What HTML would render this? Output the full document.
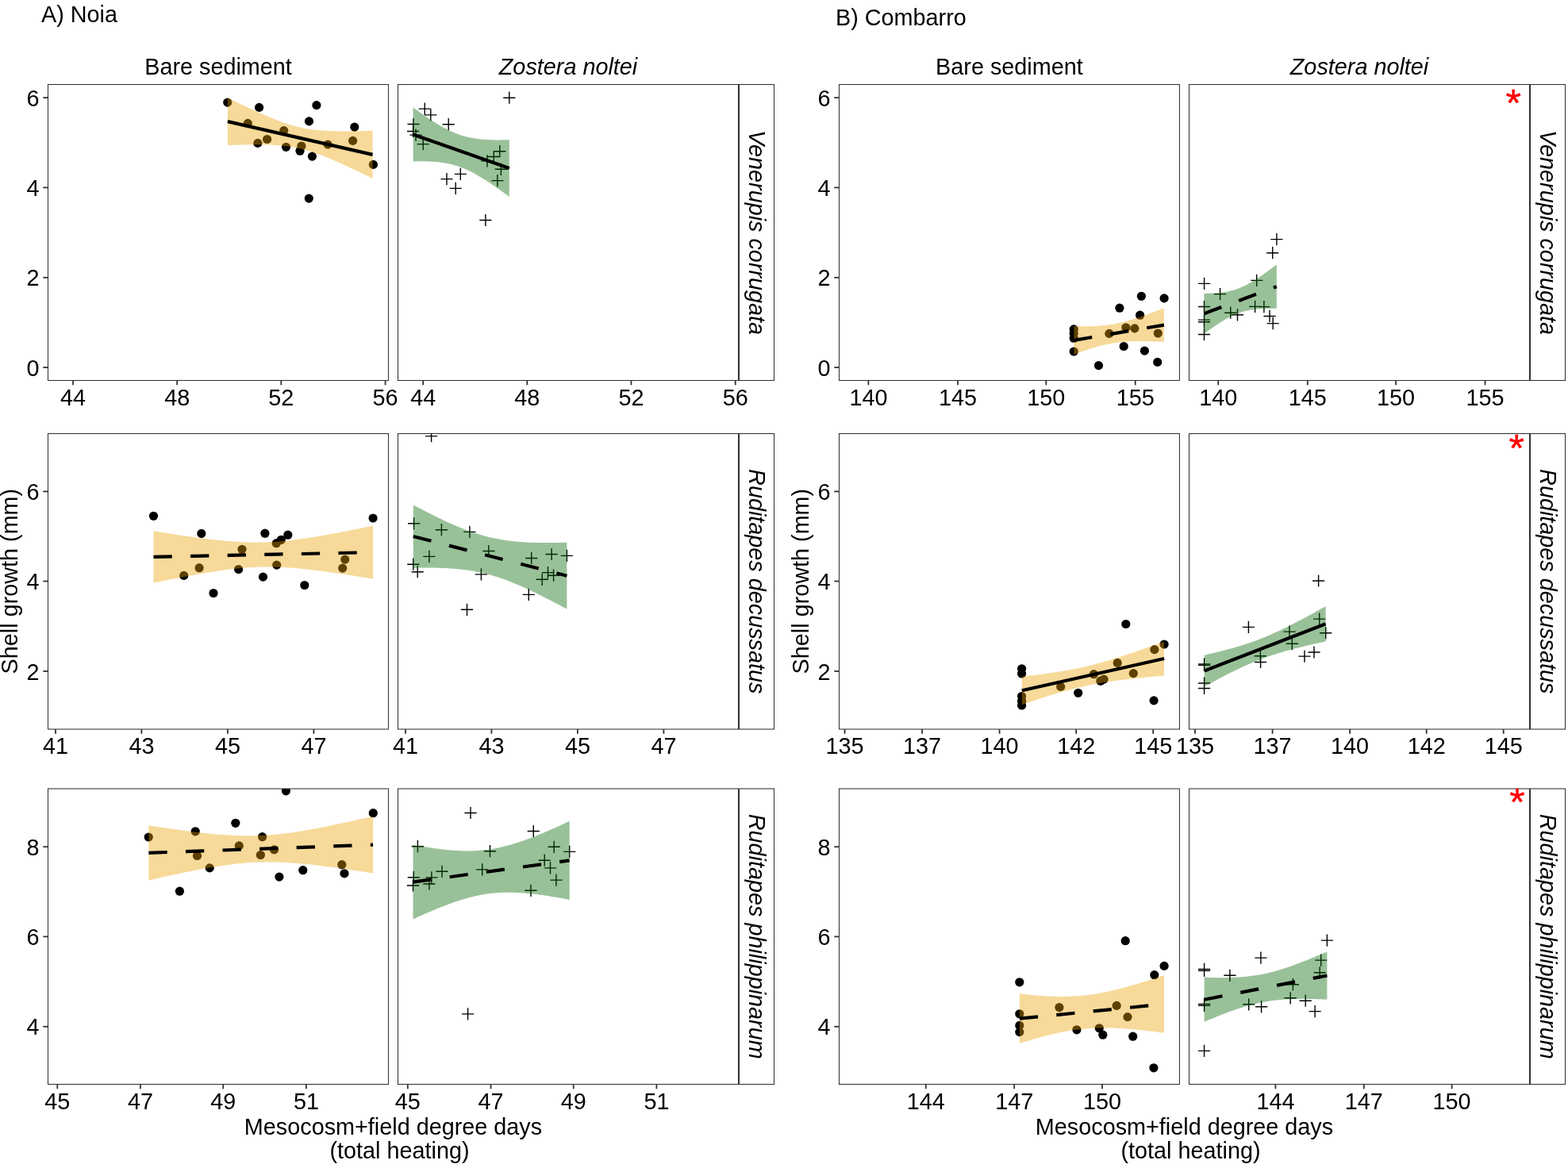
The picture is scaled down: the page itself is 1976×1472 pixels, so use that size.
<!DOCTYPE html>
<html><head><meta charset="utf-8"><title>Shell growth vs degree days</title>
<style>html,body{margin:0;padding:0;background:#fff;}svg{display:block;}</style></head>
<body>
<svg width="1976" height="1472" viewBox="0 0 1976 1472">
<rect width="1976" height="1472" fill="#fff"/>
<defs><clipPath id="cA00"><rect x="60.5" y="106.5" width="429" height="373"/></clipPath><clipPath id="cA01"><rect x="501.5" y="106.5" width="429" height="373"/></clipPath><clipPath id="cA10"><rect x="60.5" y="546.5" width="429" height="372.5"/></clipPath><clipPath id="cA11"><rect x="501.5" y="546.5" width="429" height="372.5"/></clipPath><clipPath id="cA20"><rect x="60.5" y="994" width="429" height="372.5"/></clipPath><clipPath id="cA21"><rect x="501.5" y="994" width="429" height="372.5"/></clipPath><clipPath id="cB00"><rect x="1057.5" y="106.5" width="428.9" height="373"/></clipPath><clipPath id="cB01"><rect x="1498.5" y="106.5" width="429" height="373"/></clipPath><clipPath id="cB10"><rect x="1057.5" y="546.5" width="428.9" height="372.5"/></clipPath><clipPath id="cB11"><rect x="1498.5" y="546.5" width="429" height="372.5"/></clipPath><clipPath id="cB20"><rect x="1057.5" y="994" width="428.9" height="372.5"/></clipPath><clipPath id="cB21"><rect x="1498.5" y="994" width="429" height="372.5"/></clipPath></defs>
<g font-family="'Liberation Sans', Arial, Helvetica, sans-serif" font-size="28.8" fill="#000">
<g clip-path="url(#cA00)">
<circle cx="286.7" cy="129.1" r="5.6"/>
<circle cx="326.6" cy="135.4" r="5.6"/>
<circle cx="398.9" cy="132.6" r="5.6"/>
<circle cx="389.5" cy="152.9" r="5.6"/>
<circle cx="446.8" cy="160.1" r="5.6"/>
<circle cx="312.3" cy="155.4" r="5.6"/>
<circle cx="357.7" cy="164.6" r="5.6"/>
<circle cx="336.6" cy="175.5" r="5.6"/>
<circle cx="324.9" cy="180.4" r="5.6"/>
<circle cx="360.5" cy="185.3" r="5.6"/>
<circle cx="379.9" cy="184" r="5.6"/>
<circle cx="378" cy="190.2" r="5.6"/>
<circle cx="393.4" cy="197.1" r="5.6"/>
<circle cx="413.1" cy="182.1" r="5.6"/>
<circle cx="444.6" cy="177.4" r="5.6"/>
<circle cx="470.4" cy="207.4" r="5.6"/>
<circle cx="389.3" cy="250.1" r="5.6"/>
<polygon points="286.9,123.15 289.21,124.29 291.53,125.42 293.84,126.55 296.15,127.68 298.46,128.8 300.78,129.92 303.09,131.03 305.4,132.14 307.71,133.24 310.03,134.34 312.34,135.43 314.65,136.51 316.96,137.59 319.28,138.66 321.59,139.72 323.9,140.78 326.22,141.82 328.53,142.86 330.84,143.88 333.15,144.89 335.47,145.89 337.78,146.88 340.09,147.85 342.4,148.8 344.72,149.74 347.03,150.66 349.34,151.56 351.65,152.44 353.97,153.3 356.28,154.13 358.59,154.93 360.91,155.71 363.22,156.47 365.53,157.19 367.84,157.88 370.16,158.53 372.47,159.16 374.78,159.75 377.09,160.31 379.41,160.83 381.72,161.31 384.03,161.77 386.34,162.18 388.66,162.57 390.97,162.92 393.28,163.25 395.59,163.54 397.91,163.81 400.22,164.05 402.53,164.26 404.85,164.45 407.16,164.62 409.47,164.77 411.78,164.9 414.1,165.01 416.41,165.11 418.72,165.19 421.03,165.25 423.35,165.31 425.66,165.35 427.97,165.38 430.28,165.39 432.6,165.4 434.91,165.4 437.22,165.39 439.54,165.38 441.85,165.35 444.16,165.32 446.47,165.29 448.79,165.24 451.1,165.2 453.41,165.14 455.72,165.09 458.04,165.02 460.35,164.96 462.66,164.89 464.97,164.81 467.29,164.74 469.6,164.66 469.6,225.01 467.29,223.87 464.97,222.74 462.66,221.61 460.35,220.48 458.04,219.36 455.72,218.24 453.41,217.12 451.1,216.01 448.79,214.91 446.47,213.81 444.16,212.71 441.85,211.63 439.54,210.55 437.22,209.47 434.91,208.41 432.6,207.35 430.28,206.3 427.97,205.26 425.66,204.23 423.35,203.22 421.03,202.21 418.72,201.22 416.41,200.24 414.1,199.28 411.78,198.34 409.47,197.41 407.16,196.5 404.85,195.61 402.53,194.75 400.22,193.9 397.91,193.09 395.59,192.3 393.28,191.53 390.97,190.8 388.66,190.1 386.34,189.43 384.03,188.79 381.72,188.18 379.41,187.61 377.09,187.08 374.78,186.58 372.47,186.11 370.16,185.68 367.84,185.28 365.53,184.91 363.22,184.57 360.91,184.27 358.59,183.99 356.28,183.74 353.97,183.52 351.65,183.32 349.34,183.14 347.03,182.98 344.72,182.84 342.4,182.72 340.09,182.62 337.78,182.54 335.47,182.46 333.15,182.41 330.84,182.36 328.53,182.33 326.22,182.31 323.9,182.29 321.59,182.29 319.28,182.29 316.96,182.31 314.65,182.33 312.34,182.36 310.03,182.39 307.71,182.43 305.4,182.48 303.09,182.53 300.78,182.58 298.46,182.64 296.15,182.71 293.84,182.78 291.53,182.85 289.21,182.92 286.9,183" fill="#EBA000" fill-opacity="0.4"/>
<line x1="286.9" y1="153.08" x2="469.6" y2="194.83" stroke="#000" stroke-width="4.2"/>
</g>
<rect x="60.5" y="106.5" width="429" height="373" fill="none" stroke="#333333" stroke-width="1.07"/>
<line x1="92.1" y1="479.5" x2="92.1" y2="485.3" stroke="#333333" stroke-width="1.8"/>
<text transform="translate(92.1,510.8) scale(1,1.04)" text-anchor="middle">44</text>
<line x1="223.2" y1="479.5" x2="223.2" y2="485.3" stroke="#333333" stroke-width="1.8"/>
<text transform="translate(223.2,510.8) scale(1,1.04)" text-anchor="middle">48</text>
<line x1="354.3" y1="479.5" x2="354.3" y2="485.3" stroke="#333333" stroke-width="1.8"/>
<text transform="translate(354.3,510.8) scale(1,1.04)" text-anchor="middle">52</text>
<line x1="485.6" y1="479.5" x2="485.6" y2="485.3" stroke="#333333" stroke-width="1.8"/>
<text transform="translate(485.6,510.8) scale(1,1.04)" text-anchor="middle">56</text>
<g clip-path="url(#cA01)">
<path d="M634.2 123.2h15.2M641.8 115.6v15.2M527.6 137.1h15.2M535.2 129.5v15.2M535.2 144.9h15.2M542.8 137.3v15.2M557.6 156.7h15.2M565.2 149.1v15.2M513.4 156.5h15.2M521 148.9v15.2M513 165.5h15.2M520.6 157.9v15.2M516.4 170.1h15.2M524 162.5v15.2M525.6 181.6h15.2M533.2 174v15.2M622.2 190.7h15.2M629.8 183.1v15.2M614.7 197.5h15.2M622.3 189.9v15.2M606.3 202.9h15.2M613.9 195.3v15.2M623.8 213.3h15.2M631.4 205.7v15.2M619.3 227.6h15.2M626.9 220v15.2M572.7 219.4h15.2M580.3 211.8v15.2M555.4 225.6h15.2M563 218v15.2M566.6 237.4h15.2M574.2 229.8v15.2M604.3 277.5h15.2M611.9 269.9v15.2" stroke="#000" stroke-width="1.4" fill="none"/>
<polygon points="520.6,135.43 522.13,136.55 523.67,137.66 525.2,138.76 526.74,139.86 528.27,140.96 529.81,142.04 531.34,143.12 532.87,144.19 534.41,145.25 535.94,146.31 537.48,147.35 539.01,148.39 540.54,149.41 542.08,150.42 543.61,151.43 545.15,152.42 546.68,153.39 548.22,154.36 549.75,155.31 551.28,156.24 552.82,157.16 554.35,158.07 555.89,158.95 557.42,159.82 558.95,160.67 560.49,161.51 562.02,162.32 563.56,163.11 565.09,163.88 566.63,164.62 568.16,165.34 569.69,166.04 571.23,166.72 572.76,167.37 574.3,167.99 575.83,168.59 577.36,169.17 578.9,169.72 580.43,170.24 581.97,170.74 583.5,171.21 585.04,171.66 586.57,172.08 588.1,172.47 589.64,172.85 591.17,173.2 592.71,173.52 594.24,173.83 595.77,174.11 597.31,174.37 598.84,174.61 600.38,174.84 601.91,175.04 603.45,175.23 604.98,175.4 606.51,175.55 608.05,175.69 609.58,175.82 611.12,175.93 612.65,176.02 614.18,176.11 615.72,176.18 617.25,176.24 618.79,176.3 620.32,176.34 621.86,176.37 623.39,176.39 624.92,176.41 626.46,176.41 627.99,176.41 629.53,176.4 631.06,176.39 632.59,176.36 634.13,176.33 635.66,176.3 637.2,176.26 638.73,176.21 640.27,176.16 641.8,176.11 641.8,247.99 640.27,246.86 638.73,245.73 637.2,244.6 635.66,243.48 634.13,242.37 632.59,241.26 631.06,240.16 629.53,239.07 627.99,237.98 626.46,236.9 624.92,235.82 623.39,234.76 621.86,233.7 620.32,232.66 618.79,231.62 617.25,230.59 615.72,229.57 614.18,228.57 612.65,227.58 611.12,226.59 609.58,225.63 608.05,224.67 606.51,223.73 604.98,222.81 603.45,221.9 601.91,221.01 600.38,220.13 598.84,219.28 597.31,218.44 595.77,217.62 594.24,216.83 592.71,216.05 591.17,215.3 589.64,214.57 588.1,213.86 586.57,213.18 585.04,212.52 583.5,211.89 581.97,211.28 580.43,210.7 578.9,210.14 577.36,209.61 575.83,209.11 574.3,208.63 572.76,208.18 571.23,207.75 569.69,207.34 568.16,206.97 566.63,206.61 565.09,206.28 563.56,205.97 562.02,205.68 560.49,205.41 558.95,205.16 557.42,204.93 555.89,204.72 554.35,204.53 552.82,204.36 551.28,204.2 549.75,204.05 548.22,203.93 546.68,203.81 545.15,203.71 543.61,203.62 542.08,203.54 540.54,203.48 539.01,203.42 537.48,203.38 535.94,203.35 534.41,203.32 532.87,203.3 531.34,203.29 529.81,203.29 528.27,203.3 526.74,203.31 525.2,203.34 523.67,203.36 522.13,203.39 520.6,203.43" fill="#006400" fill-opacity="0.4"/>
<line x1="520.6" y1="169.43" x2="641.8" y2="212.05" stroke="#000" stroke-width="4.2"/>
</g>
<rect x="501.5" y="106.5" width="429" height="373" fill="none" stroke="#333333" stroke-width="1.07"/>
<line x1="533.2" y1="479.5" x2="533.2" y2="485.3" stroke="#333333" stroke-width="1.8"/>
<text transform="translate(533.2,510.8) scale(1,1.04)" text-anchor="middle">44</text>
<line x1="664.3" y1="479.5" x2="664.3" y2="485.3" stroke="#333333" stroke-width="1.8"/>
<text transform="translate(664.3,510.8) scale(1,1.04)" text-anchor="middle">48</text>
<line x1="795.4" y1="479.5" x2="795.4" y2="485.3" stroke="#333333" stroke-width="1.8"/>
<text transform="translate(795.4,510.8) scale(1,1.04)" text-anchor="middle">52</text>
<line x1="926.7" y1="479.5" x2="926.7" y2="485.3" stroke="#333333" stroke-width="1.8"/>
<text transform="translate(926.7,510.8) scale(1,1.04)" text-anchor="middle">56</text>
<rect x="931.5" y="106.5" width="44" height="373" fill="none" stroke="#333333" stroke-width="1.07"/>
<text transform="translate(943.6,293) rotate(90) scale(1,1.04)" text-anchor="middle" font-style="italic">Venerupis corrugata</text>
<line x1="54.3" y1="463.1" x2="60.5" y2="463.1" stroke="#333333" stroke-width="1.8"/>
<text transform="translate(49.6,473.7) scale(1,1.04)" text-anchor="end">0</text>
<line x1="54.3" y1="349.8" x2="60.5" y2="349.8" stroke="#333333" stroke-width="1.8"/>
<text transform="translate(49.6,360.4) scale(1,1.04)" text-anchor="end">2</text>
<line x1="54.3" y1="236.4" x2="60.5" y2="236.4" stroke="#333333" stroke-width="1.8"/>
<text transform="translate(49.6,247) scale(1,1.04)" text-anchor="end">4</text>
<line x1="54.3" y1="123.1" x2="60.5" y2="123.1" stroke="#333333" stroke-width="1.8"/>
<text transform="translate(49.6,133.7) scale(1,1.04)" text-anchor="end">6</text>
<g clip-path="url(#cA10)">
<circle cx="193.5" cy="650.3" r="5.6"/>
<circle cx="253.8" cy="672.4" r="5.6"/>
<circle cx="231.7" cy="725.4" r="5.6"/>
<circle cx="251.1" cy="715.7" r="5.6"/>
<circle cx="269" cy="747.5" r="5.6"/>
<circle cx="305" cy="692.3" r="5.6"/>
<circle cx="300.6" cy="717.5" r="5.6"/>
<circle cx="333.9" cy="672.2" r="5.6"/>
<circle cx="362.8" cy="674.2" r="5.6"/>
<circle cx="354.3" cy="680.3" r="5.6"/>
<circle cx="348.3" cy="684.7" r="5.6"/>
<circle cx="348.7" cy="712.1" r="5.6"/>
<circle cx="331.5" cy="727.1" r="5.6"/>
<circle cx="383.8" cy="737.5" r="5.6"/>
<circle cx="434.8" cy="705.1" r="5.6"/>
<circle cx="431.7" cy="716.1" r="5.6"/>
<circle cx="470.1" cy="653" r="5.6"/>
<polygon points="193.5,669.16 197,669.74 200.5,670.31 204,670.88 207.51,671.44 211.01,672 214.51,672.56 218.01,673.1 221.51,673.65 225.01,674.18 228.51,674.71 232.01,675.23 235.52,675.75 239.02,676.25 242.52,676.75 246.02,677.24 249.52,677.72 253.02,678.18 256.52,678.64 260.02,679.08 263.53,679.51 267.03,679.92 270.53,680.32 274.03,680.71 277.53,681.07 281.03,681.42 284.53,681.74 288.03,682.04 291.54,682.32 295.04,682.58 298.54,682.81 302.04,683.01 305.54,683.18 309.04,683.33 312.54,683.44 316.04,683.52 319.55,683.56 323.05,683.57 326.55,683.55 330.05,683.49 333.55,683.39 337.05,683.27 340.55,683.1 344.05,682.9 347.56,682.67 351.06,682.41 354.56,682.11 358.06,681.79 361.56,681.43 365.06,681.05 368.56,680.65 372.06,680.21 375.57,679.76 379.07,679.28 382.57,678.79 386.07,678.27 389.57,677.74 393.07,677.19 396.57,676.63 400.07,676.05 403.58,675.46 407.08,674.86 410.58,674.24 414.08,673.61 417.58,672.98 421.08,672.33 424.58,671.68 428.08,671.02 431.59,670.35 435.09,669.67 438.59,668.99 442.09,668.3 445.59,667.6 449.09,666.9 452.59,666.2 456.09,665.48 459.6,664.77 463.1,664.05 466.6,663.33 470.1,662.6 470.1,729.59 466.6,729 463.1,728.43 459.6,727.85 456.09,727.29 452.59,726.72 449.09,726.16 445.59,725.61 442.09,725.06 438.59,724.51 435.09,723.98 431.59,723.45 428.08,722.92 424.58,722.41 421.08,721.9 417.58,721.4 414.08,720.91 410.58,720.43 407.08,719.96 403.58,719.5 400.07,719.06 396.57,718.63 393.07,718.21 389.57,717.81 386.07,717.42 382.57,717.05 379.07,716.7 375.57,716.37 372.06,716.06 368.56,715.78 365.06,715.52 361.56,715.28 358.06,715.08 354.56,714.9 351.06,714.75 347.56,714.63 344.05,714.54 340.55,714.49 337.05,714.47 333.55,714.49 330.05,714.54 326.55,714.63 323.05,714.75 319.55,714.91 316.04,715.1 312.54,715.32 309.04,715.58 305.54,715.87 302.04,716.19 298.54,716.54 295.04,716.91 291.54,717.31 288.03,717.74 284.53,718.19 281.03,718.66 277.53,719.15 274.03,719.66 270.53,720.19 267.03,720.74 263.53,721.3 260.02,721.87 256.52,722.46 253.02,723.06 249.52,723.68 246.02,724.3 242.52,724.93 239.02,725.58 235.52,726.23 232.01,726.89 228.51,727.56 225.01,728.23 221.51,728.92 218.01,729.6 214.51,730.3 211.01,731 207.51,731.7 204,732.41 200.5,733.13 197,733.85 193.5,734.57" fill="#EBA000" fill-opacity="0.4"/>
<line x1="193.5" y1="701.87" x2="470.1" y2="696.09" stroke="#000" stroke-width="4.2" stroke-dasharray="23.3 23.3"/>
</g>
<rect x="60.5" y="546.5" width="429" height="372.5" fill="none" stroke="#333333" stroke-width="1.07"/>
<line x1="70" y1="919" x2="70" y2="924.8" stroke="#333333" stroke-width="1.8"/>
<text transform="translate(70,950.3) scale(1,1.04)" text-anchor="middle">41</text>
<line x1="178.4" y1="919" x2="178.4" y2="924.8" stroke="#333333" stroke-width="1.8"/>
<text transform="translate(178.4,950.3) scale(1,1.04)" text-anchor="middle">43</text>
<line x1="286.9" y1="919" x2="286.9" y2="924.8" stroke="#333333" stroke-width="1.8"/>
<text transform="translate(286.9,950.3) scale(1,1.04)" text-anchor="middle">45</text>
<line x1="395.4" y1="919" x2="395.4" y2="924.8" stroke="#333333" stroke-width="1.8"/>
<text transform="translate(395.4,950.3) scale(1,1.04)" text-anchor="middle">47</text>
<g clip-path="url(#cA11)">
<path d="M536 549.6h15.2M543.6 542v15.2M514 659.8h15.2M521.6 652.2v15.2M548.8 667.7h15.2M556.4 660.1v15.2M584.3 670.4h15.2M591.9 662.8v15.2M533.3 701.4h15.2M540.9 693.8v15.2M513.2 711.2h15.2M520.8 703.6v15.2M518.6 720.7h15.2M526.2 713.1v15.2M598.8 723.9h15.2M606.4 716.3v15.2M608.3 694.5h15.2M615.9 686.9v15.2M580.9 768.3h15.2M588.5 760.7v15.2M662.1 703.5h15.2M669.7 695.9v15.2M687.5 698.5h15.2M695.1 690.9v15.2M706.8 700.4h15.2M714.4 692.8v15.2M682.9 721.6h15.2M690.5 714v15.2M690 725.2h15.2M697.6 717.6v15.2M675.6 730.3h15.2M683.2 722.7v15.2M658.7 749.4h15.2M666.3 741.8v15.2" stroke="#000" stroke-width="1.4" fill="none"/>
<polygon points="520.8,636.39 523.25,637.69 525.7,638.98 528.15,640.27 530.6,641.56 533.05,642.83 535.5,644.09 537.95,645.35 540.41,646.6 542.86,647.84 545.31,649.06 547.76,650.28 550.21,651.49 552.66,652.68 555.11,653.86 557.56,655.03 560.01,656.18 562.46,657.32 564.91,658.45 567.36,659.55 569.81,660.64 572.26,661.72 574.71,662.77 577.16,663.8 579.62,664.81 582.07,665.8 584.52,666.77 586.97,667.72 589.42,668.64 591.87,669.53 594.32,670.4 596.77,671.24 599.22,672.05 601.67,672.84 604.12,673.6 606.57,674.32 609.02,675.02 611.47,675.69 613.92,676.33 616.37,676.93 618.83,677.51 621.28,678.06 623.73,678.58 626.18,679.06 628.63,679.52 631.08,679.96 633.53,680.36 635.98,680.74 638.43,681.09 640.88,681.42 643.33,681.72 645.78,682 648.23,682.26 650.68,682.5 653.13,682.71 655.58,682.91 658.04,683.09 660.49,683.25 662.94,683.39 665.39,683.52 667.84,683.63 670.29,683.72 672.74,683.81 675.19,683.88 677.64,683.94 680.09,683.98 682.54,684.02 684.99,684.04 687.44,684.06 689.89,684.06 692.34,684.06 694.79,684.05 697.25,684.03 699.7,684 702.15,683.96 704.6,683.92 707.05,683.87 709.5,683.82 711.95,683.75 714.4,683.69 714.4,767.63 711.95,766.3 709.5,764.99 707.05,763.67 704.6,762.37 702.15,761.07 699.7,759.78 697.25,758.49 694.79,757.22 692.34,755.95 689.89,754.69 687.44,753.44 684.99,752.2 682.54,750.96 680.09,749.74 677.64,748.53 675.19,747.34 672.74,746.15 670.29,744.98 667.84,743.82 665.39,742.67 662.94,741.54 660.49,740.43 658.04,739.33 655.58,738.26 653.13,737.2 650.68,736.16 648.23,735.14 645.78,734.14 643.33,733.16 640.88,732.21 638.43,731.28 635.98,730.37 633.53,729.5 631.08,728.65 628.63,727.82 626.18,727.03 623.73,726.26 621.28,725.52 618.83,724.81 616.37,724.13 613.92,723.48 611.47,722.86 609.02,722.28 606.57,721.72 604.12,721.19 601.67,720.69 599.22,720.22 596.77,719.78 594.32,719.36 591.87,718.97 589.42,718.61 586.97,718.28 584.52,717.96 582.07,717.67 579.62,717.41 577.16,717.16 574.71,716.94 572.26,716.74 569.81,716.55 567.36,716.39 564.91,716.24 562.46,716.11 560.01,715.99 557.56,715.89 555.11,715.8 552.66,715.72 550.21,715.66 547.76,715.61 545.31,715.57 542.86,715.54 540.41,715.52 537.95,715.52 535.5,715.52 533.05,715.53 530.6,715.54 528.15,715.57 525.7,715.6 523.25,715.64 520.8,715.69" fill="#006400" fill-opacity="0.4"/>
<line x1="520.8" y1="676.04" x2="714.4" y2="725.66" stroke="#000" stroke-width="4.2" stroke-dasharray="23.3 23.3"/>
</g>
<rect x="501.5" y="546.5" width="429" height="372.5" fill="none" stroke="#333333" stroke-width="1.07"/>
<line x1="511" y1="919" x2="511" y2="924.8" stroke="#333333" stroke-width="1.8"/>
<text transform="translate(511,950.3) scale(1,1.04)" text-anchor="middle">41</text>
<line x1="619.4" y1="919" x2="619.4" y2="924.8" stroke="#333333" stroke-width="1.8"/>
<text transform="translate(619.4,950.3) scale(1,1.04)" text-anchor="middle">43</text>
<line x1="727.9" y1="919" x2="727.9" y2="924.8" stroke="#333333" stroke-width="1.8"/>
<text transform="translate(727.9,950.3) scale(1,1.04)" text-anchor="middle">45</text>
<line x1="836.4" y1="919" x2="836.4" y2="924.8" stroke="#333333" stroke-width="1.8"/>
<text transform="translate(836.4,950.3) scale(1,1.04)" text-anchor="middle">47</text>
<rect x="931.5" y="546.5" width="44" height="372.5" fill="none" stroke="#333333" stroke-width="1.07"/>
<text transform="translate(943.6,732.75) rotate(90) scale(1,1.04)" text-anchor="middle" font-style="italic">Ruditapes decussatus</text>
<line x1="54.3" y1="845.9" x2="60.5" y2="845.9" stroke="#333333" stroke-width="1.8"/>
<text transform="translate(49.6,856.5) scale(1,1.04)" text-anchor="end">2</text>
<line x1="54.3" y1="732.5" x2="60.5" y2="732.5" stroke="#333333" stroke-width="1.8"/>
<text transform="translate(49.6,743.1) scale(1,1.04)" text-anchor="end">4</text>
<line x1="54.3" y1="619.4" x2="60.5" y2="619.4" stroke="#333333" stroke-width="1.8"/>
<text transform="translate(49.6,630) scale(1,1.04)" text-anchor="end">6</text>
<g clip-path="url(#cA20)">
<circle cx="187.2" cy="1055" r="5.6"/>
<circle cx="246.2" cy="1047.8" r="5.6"/>
<circle cx="248.5" cy="1078.5" r="5.6"/>
<circle cx="296.8" cy="1037.3" r="5.6"/>
<circle cx="301.3" cy="1065.9" r="5.6"/>
<circle cx="264.2" cy="1093.9" r="5.6"/>
<circle cx="226.4" cy="1123.2" r="5.6"/>
<circle cx="330.6" cy="1054.7" r="5.6"/>
<circle cx="328.4" cy="1077.5" r="5.6"/>
<circle cx="345.5" cy="1070.9" r="5.6"/>
<circle cx="360.4" cy="996.8" r="5.6"/>
<circle cx="381.8" cy="1096.7" r="5.6"/>
<circle cx="351.9" cy="1105.1" r="5.6"/>
<circle cx="430.8" cy="1089.7" r="5.6"/>
<circle cx="434" cy="1100.8" r="5.6"/>
<circle cx="470.3" cy="1024.7" r="5.6"/>
<polygon points="187.4,1040.27 190.98,1040.83 194.56,1041.38 198.14,1041.92 201.71,1042.46 205.29,1043 208.87,1043.53 212.45,1044.05 216.03,1044.57 219.61,1045.08 223.18,1045.58 226.76,1046.07 230.34,1046.56 233.92,1047.04 237.5,1047.5 241.08,1047.96 244.66,1048.41 248.23,1048.84 251.81,1049.26 255.39,1049.67 258.97,1050.06 262.55,1050.44 266.13,1050.8 269.71,1051.14 273.28,1051.46 276.86,1051.77 280.44,1052.05 284.02,1052.3 287.6,1052.53 291.18,1052.74 294.75,1052.91 298.33,1053.06 301.91,1053.18 305.49,1053.26 309.07,1053.32 312.65,1053.33 316.23,1053.32 319.8,1053.26 323.38,1053.17 326.96,1053.05 330.54,1052.88 334.12,1052.69 337.7,1052.45 341.27,1052.18 344.85,1051.87 348.43,1051.54 352.01,1051.17 355.59,1050.77 359.17,1050.33 362.75,1049.88 366.32,1049.39 369.9,1048.88 373.48,1048.35 377.06,1047.79 380.64,1047.21 384.22,1046.62 387.79,1046 391.37,1045.37 394.95,1044.72 398.53,1044.06 402.11,1043.38 405.69,1042.69 409.27,1041.99 412.84,1041.28 416.42,1040.55 420,1039.82 423.58,1039.08 427.16,1038.33 430.74,1037.57 434.32,1036.8 437.89,1036.03 441.47,1035.25 445.05,1034.46 448.63,1033.67 452.21,1032.87 455.79,1032.07 459.36,1031.27 462.94,1030.45 466.52,1029.64 470.1,1028.82 470.1,1100.51 466.52,1099.95 462.94,1099.39 459.36,1098.84 455.79,1098.29 452.21,1097.74 448.63,1097.2 445.05,1096.67 441.47,1096.14 437.89,1095.62 434.32,1095.1 430.74,1094.59 427.16,1094.09 423.58,1093.6 420,1093.11 416.42,1092.64 412.84,1092.17 409.27,1091.72 405.69,1091.27 402.11,1090.84 398.53,1090.42 394.95,1090.01 391.37,1089.62 387.79,1089.25 384.22,1088.89 380.64,1088.55 377.06,1088.23 373.48,1087.93 369.9,1087.66 366.32,1087.4 362.75,1087.17 359.17,1086.97 355.59,1086.8 352.01,1086.66 348.43,1086.54 344.85,1086.46 341.27,1086.41 337.7,1086.4 334.12,1086.42 330.54,1086.48 326.96,1086.58 323.38,1086.71 319.8,1086.87 316.23,1087.08 312.65,1087.32 309.07,1087.59 305.49,1087.9 301.91,1088.24 298.33,1088.62 294.75,1089.02 291.18,1089.46 287.6,1089.92 284.02,1090.41 280.44,1090.92 276.86,1091.46 273.28,1092.02 269.71,1092.6 266.13,1093.2 262.55,1093.81 258.97,1094.45 255.39,1095.1 251.81,1095.76 248.23,1096.44 244.66,1097.13 241.08,1097.84 237.5,1098.55 233.92,1099.28 230.34,1100.01 226.76,1100.75 223.18,1101.51 219.61,1102.27 216.03,1103.03 212.45,1103.81 208.87,1104.59 205.29,1105.37 201.71,1106.17 198.14,1106.96 194.56,1107.77 190.98,1108.57 187.4,1109.39" fill="#EBA000" fill-opacity="0.4"/>
<line x1="187.4" y1="1074.83" x2="470.1" y2="1064.67" stroke="#000" stroke-width="4.2" stroke-dasharray="23.3 23.3"/>
</g>
<rect x="60.5" y="994" width="429" height="372.5" fill="none" stroke="#333333" stroke-width="1.07"/>
<line x1="72.3" y1="1366.5" x2="72.3" y2="1372.3" stroke="#333333" stroke-width="1.8"/>
<text transform="translate(72.3,1397.8) scale(1,1.04)" text-anchor="middle">45</text>
<line x1="177" y1="1366.5" x2="177" y2="1372.3" stroke="#333333" stroke-width="1.8"/>
<text transform="translate(177,1397.8) scale(1,1.04)" text-anchor="middle">47</text>
<line x1="281.2" y1="1366.5" x2="281.2" y2="1372.3" stroke="#333333" stroke-width="1.8"/>
<text transform="translate(281.2,1397.8) scale(1,1.04)" text-anchor="middle">49</text>
<line x1="385.9" y1="1366.5" x2="385.9" y2="1372.3" stroke="#333333" stroke-width="1.8"/>
<text transform="translate(385.9,1397.8) scale(1,1.04)" text-anchor="middle">51</text>
<g clip-path="url(#cA21)">
<path d="M585.4 1024.5h15.2M593 1016.9v15.2M518.8 1066.7h15.2M526.4 1059.1v15.2M609.9 1072.7h15.2M617.5 1065.1v15.2M549.4 1098.3h15.2M557 1090.7v15.2M600.1 1095.9h15.2M607.7 1088.3v15.2M513.7 1105.7h15.2M521.3 1098.1v15.2M512.9 1116h15.2M520.5 1108.4v15.2M536.3 1105.9h15.2M543.9 1098.3v15.2M533.3 1114h15.2M540.9 1106.4v15.2M664.7 1047.5h15.2M672.3 1039.9v15.2M690.6 1067.3h15.2M698.2 1059.7v15.2M710.1 1073.4h15.2M717.7 1065.8v15.2M678.6 1084.2h15.2M686.2 1076.6v15.2M685.9 1093.9h15.2M693.5 1086.3v15.2M693.3 1109.1h15.2M700.9 1101.5v15.2M661.4 1122.3h15.2M669 1114.7v15.2M582 1277.9h15.2M589.6 1270.3v15.2" stroke="#000" stroke-width="1.4" fill="none"/>
<polygon points="520.5,1064.71 523,1065.16 525.49,1065.61 527.99,1066.04 530.48,1066.47 532.98,1066.89 535.48,1067.3 537.97,1067.7 540.47,1068.09 542.97,1068.46 545.46,1068.83 547.96,1069.18 550.45,1069.52 552.95,1069.84 555.45,1070.15 557.94,1070.45 560.44,1070.72 562.94,1070.98 565.43,1071.22 567.93,1071.45 570.42,1071.65 572.92,1071.83 575.42,1071.99 577.91,1072.12 580.41,1072.24 582.91,1072.32 585.4,1072.38 587.9,1072.41 590.39,1072.41 592.89,1072.38 595.39,1072.32 597.88,1072.23 600.38,1072.11 602.87,1071.95 605.37,1071.76 607.87,1071.54 610.36,1071.28 612.86,1070.98 615.36,1070.65 617.85,1070.29 620.35,1069.89 622.84,1069.45 625.34,1068.98 627.84,1068.47 630.33,1067.93 632.83,1067.36 635.33,1066.75 637.82,1066.11 640.32,1065.45 642.81,1064.75 645.31,1064.02 647.81,1063.27 650.3,1062.49 652.8,1061.69 655.29,1060.86 657.79,1060 660.29,1059.13 662.78,1058.23 665.28,1057.32 667.78,1056.38 670.27,1055.43 672.77,1054.46 675.26,1053.48 677.76,1052.47 680.26,1051.46 682.75,1050.43 685.25,1049.38 687.75,1048.33 690.24,1047.26 692.74,1046.18 695.23,1045.09 697.73,1043.99 700.23,1042.89 702.72,1041.77 705.22,1040.64 707.72,1039.51 710.21,1038.36 712.71,1037.21 715.2,1036.06 717.7,1034.89 717.7,1133.91 715.2,1133.43 712.71,1132.96 710.21,1132.5 707.72,1132.05 705.22,1131.6 702.72,1131.16 700.23,1130.73 697.73,1130.31 695.23,1129.9 692.74,1129.5 690.24,1129.11 687.75,1128.73 685.25,1128.36 682.75,1128 680.26,1127.66 677.76,1127.33 675.26,1127.02 672.77,1126.72 670.27,1126.44 667.78,1126.18 665.28,1125.93 662.78,1125.7 660.29,1125.49 657.79,1125.31 655.29,1125.14 652.8,1125 650.3,1124.89 647.81,1124.79 645.31,1124.73 642.81,1124.69 640.32,1124.68 637.82,1124.7 635.33,1124.75 632.83,1124.83 630.33,1124.95 627.84,1125.1 625.34,1125.28 622.84,1125.49 620.35,1125.74 617.85,1126.03 615.36,1126.35 612.86,1126.71 610.36,1127.1 607.87,1127.53 605.37,1127.99 602.87,1128.49 600.38,1129.02 597.88,1129.59 595.39,1130.18 592.89,1130.81 590.39,1131.47 587.9,1132.16 585.4,1132.88 582.91,1133.63 580.41,1134.4 577.91,1135.2 575.42,1136.02 572.92,1136.87 570.42,1137.74 567.93,1138.63 565.43,1139.54 562.94,1140.47 560.44,1141.42 557.94,1142.38 555.45,1143.36 552.95,1144.36 550.45,1145.37 547.96,1146.4 545.46,1147.44 542.97,1148.49 540.47,1149.56 537.97,1150.63 535.48,1151.72 532.98,1152.82 530.48,1153.92 527.99,1155.04 525.49,1156.16 523,1157.3 520.5,1158.44" fill="#006400" fill-opacity="0.4"/>
<line x1="520.5" y1="1111.57" x2="717.7" y2="1084.4" stroke="#000" stroke-width="4.2" stroke-dasharray="23.3 23.3"/>
</g>
<rect x="501.5" y="994" width="429" height="372.5" fill="none" stroke="#333333" stroke-width="1.07"/>
<line x1="513.8" y1="1366.5" x2="513.8" y2="1372.3" stroke="#333333" stroke-width="1.8"/>
<text transform="translate(513.8,1397.8) scale(1,1.04)" text-anchor="middle">45</text>
<line x1="618.5" y1="1366.5" x2="618.5" y2="1372.3" stroke="#333333" stroke-width="1.8"/>
<text transform="translate(618.5,1397.8) scale(1,1.04)" text-anchor="middle">47</text>
<line x1="722.7" y1="1366.5" x2="722.7" y2="1372.3" stroke="#333333" stroke-width="1.8"/>
<text transform="translate(722.7,1397.8) scale(1,1.04)" text-anchor="middle">49</text>
<line x1="827.4" y1="1366.5" x2="827.4" y2="1372.3" stroke="#333333" stroke-width="1.8"/>
<text transform="translate(827.4,1397.8) scale(1,1.04)" text-anchor="middle">51</text>
<rect x="931.5" y="994" width="44" height="372.5" fill="none" stroke="#333333" stroke-width="1.07"/>
<text transform="translate(943.6,1180.25) rotate(90) scale(1,1.04)" text-anchor="middle" font-style="italic">Ruditapes philippinarum</text>
<line x1="54.3" y1="1293.8" x2="60.5" y2="1293.8" stroke="#333333" stroke-width="1.8"/>
<text transform="translate(49.6,1304.4) scale(1,1.04)" text-anchor="end">4</text>
<line x1="54.3" y1="1180.4" x2="60.5" y2="1180.4" stroke="#333333" stroke-width="1.8"/>
<text transform="translate(49.6,1191) scale(1,1.04)" text-anchor="end">6</text>
<line x1="54.3" y1="1067.2" x2="60.5" y2="1067.2" stroke="#333333" stroke-width="1.8"/>
<text transform="translate(49.6,1077.8) scale(1,1.04)" text-anchor="end">8</text>
<text transform="translate(275,93.8) scale(1,1.04)" text-anchor="middle">Bare sediment</text>
<text transform="translate(716,93.8) scale(1,1.04)" text-anchor="middle" font-style="italic">Zostera noltei</text>
<text transform="translate(22.1,732.6) rotate(-90) scale(1,1.04)" text-anchor="middle">Shell growth (mm)</text>
<text transform="translate(495.5,1430.3) scale(1,1.04)" text-anchor="middle">Mesocosm+field degree days</text>
<text transform="translate(503.5,1460.3) scale(1,1.04)" text-anchor="middle">(total heating)</text>
<g clip-path="url(#cB00)">
<circle cx="1438.4" cy="373.3" r="5.6"/>
<circle cx="1467.1" cy="375.9" r="5.6"/>
<circle cx="1410.9" cy="388.2" r="5.6"/>
<circle cx="1436.6" cy="397.2" r="5.6"/>
<circle cx="1418.9" cy="412.8" r="5.6"/>
<circle cx="1429.9" cy="413.9" r="5.6"/>
<circle cx="1397.9" cy="420.4" r="5.6"/>
<circle cx="1459.3" cy="420" r="5.6"/>
<circle cx="1416.2" cy="436.5" r="5.6"/>
<circle cx="1442.4" cy="442.1" r="5.6"/>
<circle cx="1458.7" cy="456.4" r="5.6"/>
<circle cx="1384.5" cy="460.6" r="5.6"/>
<circle cx="1353.2" cy="414.9" r="5.6"/>
<circle cx="1353.2" cy="420.3" r="5.6"/>
<circle cx="1353.2" cy="426.2" r="5.6"/>
<circle cx="1353.2" cy="443" r="5.6"/>
<polygon points="1353.3,411.04 1354.74,411.09 1356.18,411.13 1357.61,411.16 1359.05,411.2 1360.49,411.22 1361.93,411.25 1363.37,411.26 1364.8,411.28 1366.24,411.28 1367.68,411.28 1369.12,411.28 1370.56,411.26 1371.99,411.24 1373.43,411.22 1374.87,411.18 1376.31,411.14 1377.75,411.09 1379.18,411.03 1380.62,410.96 1382.06,410.88 1383.5,410.8 1384.94,410.7 1386.37,410.59 1387.81,410.47 1389.25,410.34 1390.69,410.2 1392.13,410.05 1393.56,409.88 1395,409.71 1396.44,409.52 1397.88,409.32 1399.32,409.1 1400.75,408.87 1402.19,408.63 1403.63,408.38 1405.07,408.12 1406.51,407.84 1407.94,407.55 1409.38,407.24 1410.82,406.93 1412.26,406.6 1413.69,406.26 1415.13,405.9 1416.57,405.54 1418.01,405.17 1419.45,404.78 1420.88,404.39 1422.32,403.98 1423.76,403.57 1425.2,403.14 1426.64,402.71 1428.07,402.27 1429.51,401.82 1430.95,401.36 1432.39,400.9 1433.83,400.43 1435.26,399.95 1436.7,399.47 1438.14,398.97 1439.58,398.48 1441.02,397.97 1442.45,397.47 1443.89,396.95 1445.33,396.44 1446.77,395.91 1448.21,395.39 1449.64,394.85 1451.08,394.32 1452.52,393.78 1453.96,393.24 1455.4,392.69 1456.83,392.14 1458.27,391.59 1459.71,391.03 1461.15,390.48 1462.59,389.92 1464.02,389.35 1465.46,388.79 1466.9,388.22 1466.9,430.97 1465.46,430.89 1464.02,430.81 1462.59,430.74 1461.15,430.66 1459.71,430.6 1458.27,430.53 1456.83,430.47 1455.4,430.4 1453.96,430.35 1452.52,430.29 1451.08,430.24 1449.64,430.2 1448.21,430.16 1446.77,430.12 1445.33,430.08 1443.89,430.05 1442.45,430.03 1441.02,430.01 1439.58,430 1438.14,429.99 1436.7,429.99 1435.26,429.99 1433.83,430 1432.39,430.02 1430.95,430.04 1429.51,430.07 1428.07,430.11 1426.64,430.16 1425.2,430.22 1423.76,430.28 1422.32,430.36 1420.88,430.44 1419.45,430.53 1418.01,430.64 1416.57,430.75 1415.13,430.88 1413.69,431.02 1412.26,431.17 1410.82,431.33 1409.38,431.5 1407.94,431.68 1406.51,431.88 1405.07,432.09 1403.63,432.31 1402.19,432.55 1400.75,432.8 1399.32,433.06 1397.88,433.33 1396.44,433.62 1395,433.92 1393.56,434.23 1392.13,434.56 1390.69,434.89 1389.25,435.24 1387.81,435.6 1386.37,435.97 1384.94,436.35 1383.5,436.74 1382.06,437.14 1380.62,437.55 1379.18,437.98 1377.75,438.41 1376.31,438.84 1374.87,439.29 1373.43,439.74 1371.99,440.21 1370.56,440.68 1369.12,441.15 1367.68,441.63 1366.24,442.12 1364.8,442.62 1363.37,443.12 1361.93,443.63 1360.49,444.14 1359.05,444.65 1357.61,445.17 1356.18,445.7 1354.74,446.23 1353.3,446.76" fill="#EBA000" fill-opacity="0.4"/>
<line x1="1353.3" y1="428.9" x2="1466.9" y2="409.59" stroke="#000" stroke-width="4.2" stroke-dasharray="23.3 23.3"/>
</g>
<rect x="1057.5" y="106.5" width="428.9" height="373" fill="none" stroke="#333333" stroke-width="1.07"/>
<line x1="1094.4" y1="479.5" x2="1094.4" y2="485.3" stroke="#333333" stroke-width="1.8"/>
<text transform="translate(1094.4,510.8) scale(1,1.04)" text-anchor="middle">140</text>
<line x1="1207" y1="479.5" x2="1207" y2="485.3" stroke="#333333" stroke-width="1.8"/>
<text transform="translate(1207,510.8) scale(1,1.04)" text-anchor="middle">145</text>
<line x1="1318.3" y1="479.5" x2="1318.3" y2="485.3" stroke="#333333" stroke-width="1.8"/>
<text transform="translate(1318.3,510.8) scale(1,1.04)" text-anchor="middle">150</text>
<line x1="1430.7" y1="479.5" x2="1430.7" y2="485.3" stroke="#333333" stroke-width="1.8"/>
<text transform="translate(1430.7,510.8) scale(1,1.04)" text-anchor="middle">155</text>
<g clip-path="url(#cB01)">
<path d="M1601.3 301.6h15.2M1608.9 294v15.2M1596.1 318.7h15.2M1603.7 311.1v15.2M1510 357.4h15.2M1517.6 349.8v15.2M1576.1 353.4h15.2M1583.7 345.8v15.2M1530 370.6h15.2M1537.6 363v15.2M1509.9 386.5h15.2M1517.5 378.9v15.2M1543.2 394.2h15.2M1550.8 386.6v15.2M1551.9 396.8h15.2M1559.5 389.2v15.2M1574 386.4h15.2M1581.6 378.8v15.2M1585.3 386.6h15.2M1592.9 379v15.2M1592.4 398.5h15.2M1600 390.9v15.2M1596.6 407.6h15.2M1604.2 400v15.2M1509.9 403.1h15.2M1517.5 395.5v15.2M1509.9 405.8h15.2M1517.5 398.2v15.2M1509.9 421.5h15.2M1517.5 413.9v15.2" stroke="#000" stroke-width="1.4" fill="none"/>
<polygon points="1517.5,369.71 1518.66,369.7 1519.81,369.7 1520.97,369.69 1522.12,369.67 1523.28,369.65 1524.43,369.62 1525.59,369.59 1526.75,369.55 1527.9,369.5 1529.06,369.45 1530.21,369.39 1531.37,369.32 1532.52,369.25 1533.68,369.16 1534.84,369.07 1535.99,368.97 1537.15,368.85 1538.3,368.73 1539.46,368.6 1540.61,368.45 1541.77,368.29 1542.93,368.12 1544.08,367.94 1545.24,367.74 1546.39,367.53 1547.55,367.3 1548.7,367.06 1549.86,366.8 1551.02,366.53 1552.17,366.24 1553.33,365.93 1554.48,365.6 1555.64,365.25 1556.79,364.89 1557.95,364.51 1559.11,364.11 1560.26,363.69 1561.42,363.25 1562.57,362.79 1563.73,362.31 1564.88,361.81 1566.04,361.3 1567.19,360.77 1568.35,360.22 1569.51,359.65 1570.66,359.06 1571.82,358.46 1572.97,357.84 1574.13,357.21 1575.28,356.56 1576.44,355.9 1577.6,355.22 1578.75,354.53 1579.91,353.83 1581.06,353.12 1582.22,352.39 1583.37,351.65 1584.53,350.9 1585.69,350.15 1586.84,349.38 1588,348.6 1589.15,347.82 1590.31,347.03 1591.46,346.22 1592.62,345.42 1593.78,344.6 1594.93,343.78 1596.09,342.95 1597.24,342.12 1598.4,341.28 1599.55,340.43 1600.71,339.58 1601.87,338.73 1603.02,337.87 1604.18,337.01 1605.33,336.14 1606.49,335.27 1607.64,334.39 1608.8,333.51 1608.8,388.82 1607.64,388.8 1606.49,388.79 1605.33,388.78 1604.18,388.77 1603.02,388.77 1601.87,388.77 1600.71,388.78 1599.55,388.79 1598.4,388.8 1597.24,388.82 1596.09,388.85 1594.93,388.89 1593.78,388.93 1592.62,388.97 1591.46,389.02 1590.31,389.09 1589.15,389.15 1588,389.23 1586.84,389.31 1585.69,389.41 1584.53,389.51 1583.37,389.63 1582.22,389.75 1581.06,389.88 1579.91,390.03 1578.75,390.19 1577.6,390.36 1576.44,390.55 1575.28,390.74 1574.13,390.96 1572.97,391.19 1571.82,391.43 1570.66,391.69 1569.51,391.96 1568.35,392.26 1567.19,392.57 1566.04,392.9 1564.88,393.24 1563.73,393.61 1562.57,393.99 1561.42,394.39 1560.26,394.82 1559.11,395.26 1557.95,395.72 1556.79,396.2 1555.64,396.69 1554.48,397.21 1553.33,397.74 1552.17,398.29 1551.02,398.86 1549.86,399.45 1548.7,400.05 1547.55,400.67 1546.39,401.31 1545.24,401.96 1544.08,402.62 1542.93,403.3 1541.77,403.99 1540.61,404.69 1539.46,405.41 1538.3,406.13 1537.15,406.87 1535.99,407.62 1534.84,408.38 1533.68,409.15 1532.52,409.92 1531.37,410.71 1530.21,411.5 1529.06,412.3 1527.9,413.11 1526.75,413.93 1525.59,414.75 1524.43,415.58 1523.28,416.41 1522.12,417.25 1520.97,418.1 1519.81,418.95 1518.66,419.8 1517.5,420.66" fill="#006400" fill-opacity="0.4"/>
<line x1="1517.5" y1="395.18" x2="1608.8" y2="361.17" stroke="#000" stroke-width="4.2" stroke-dasharray="23.3 23.3"/>
</g>
<rect x="1498.5" y="106.5" width="429" height="373" fill="none" stroke="#333333" stroke-width="1.07"/>
<line x1="1535.2" y1="479.5" x2="1535.2" y2="485.3" stroke="#333333" stroke-width="1.8"/>
<text transform="translate(1535.2,510.8) scale(1,1.04)" text-anchor="middle">140</text>
<line x1="1647.8" y1="479.5" x2="1647.8" y2="485.3" stroke="#333333" stroke-width="1.8"/>
<text transform="translate(1647.8,510.8) scale(1,1.04)" text-anchor="middle">145</text>
<line x1="1759.1" y1="479.5" x2="1759.1" y2="485.3" stroke="#333333" stroke-width="1.8"/>
<text transform="translate(1759.1,510.8) scale(1,1.04)" text-anchor="middle">150</text>
<line x1="1871.5" y1="479.5" x2="1871.5" y2="485.3" stroke="#333333" stroke-width="1.8"/>
<text transform="translate(1871.5,510.8) scale(1,1.04)" text-anchor="middle">155</text>
<rect x="1928.5" y="106.5" width="44" height="373" fill="none" stroke="#333333" stroke-width="1.07"/>
<text transform="translate(1940.6,293) rotate(90) scale(1,1.04)" text-anchor="middle" font-style="italic">Venerupis corrugata</text>
<line x1="1051.3" y1="463.1" x2="1057.5" y2="463.1" stroke="#333333" stroke-width="1.8"/>
<text transform="translate(1046.6,473.7) scale(1,1.04)" text-anchor="end">0</text>
<line x1="1051.3" y1="349.8" x2="1057.5" y2="349.8" stroke="#333333" stroke-width="1.8"/>
<text transform="translate(1046.6,360.4) scale(1,1.04)" text-anchor="end">2</text>
<line x1="1051.3" y1="236.4" x2="1057.5" y2="236.4" stroke="#333333" stroke-width="1.8"/>
<text transform="translate(1046.6,247) scale(1,1.04)" text-anchor="end">4</text>
<line x1="1051.3" y1="123.1" x2="1057.5" y2="123.1" stroke="#333333" stroke-width="1.8"/>
<text transform="translate(1046.6,133.7) scale(1,1.04)" text-anchor="end">6</text>
<g clip-path="url(#cB10)">
<circle cx="1418.8" cy="786.5" r="5.6"/>
<circle cx="1467.1" cy="812" r="5.6"/>
<circle cx="1454.9" cy="818.6" r="5.6"/>
<circle cx="1408.2" cy="835.4" r="5.6"/>
<circle cx="1428.3" cy="848.6" r="5.6"/>
<circle cx="1378.4" cy="849.7" r="5.6"/>
<circle cx="1391.1" cy="856.1" r="5.6"/>
<circle cx="1386.9" cy="858.2" r="5.6"/>
<circle cx="1336.7" cy="865.4" r="5.6"/>
<circle cx="1358.7" cy="873.3" r="5.6"/>
<circle cx="1454.1" cy="882.9" r="5.6"/>
<circle cx="1287.6" cy="842.8" r="5.6"/>
<circle cx="1287.6" cy="849" r="5.6"/>
<circle cx="1287.6" cy="877.5" r="5.6"/>
<circle cx="1287.6" cy="883.5" r="5.6"/>
<circle cx="1287.6" cy="889" r="5.6"/>
<polygon points="1287.8,852.39 1290.07,852.16 1292.34,851.93 1294.61,851.7 1296.88,851.46 1299.14,851.21 1301.41,850.96 1303.68,850.71 1305.95,850.45 1308.22,850.18 1310.49,849.91 1312.76,849.63 1315.03,849.35 1317.3,849.06 1319.57,848.76 1321.83,848.45 1324.1,848.13 1326.37,847.81 1328.64,847.48 1330.91,847.14 1333.18,846.79 1335.45,846.43 1337.72,846.06 1339.99,845.68 1342.26,845.29 1344.52,844.89 1346.79,844.47 1349.06,844.05 1351.33,843.61 1353.6,843.16 1355.87,842.7 1358.14,842.23 1360.41,841.75 1362.68,841.25 1364.95,840.74 1367.21,840.22 1369.48,839.69 1371.75,839.14 1374.02,838.58 1376.29,838.01 1378.56,837.43 1380.83,836.83 1383.1,836.23 1385.37,835.61 1387.64,834.98 1389.9,834.34 1392.17,833.69 1394.44,833.04 1396.71,832.37 1398.98,831.69 1401.25,831 1403.52,830.31 1405.79,829.6 1408.06,828.89 1410.33,828.17 1412.59,827.45 1414.86,826.71 1417.13,825.97 1419.4,825.23 1421.67,824.47 1423.94,823.71 1426.21,822.95 1428.48,822.18 1430.75,821.41 1433.02,820.63 1435.28,819.84 1437.55,819.06 1439.82,818.26 1442.09,817.47 1444.36,816.67 1446.63,815.87 1448.9,815.06 1451.17,814.25 1453.44,813.44 1455.71,812.62 1457.97,811.8 1460.24,810.98 1462.51,810.15 1464.78,809.33 1467.05,808.5 1467.05,851.58 1464.78,851.77 1462.51,851.96 1460.24,852.15 1457.97,852.35 1455.71,852.55 1453.44,852.75 1451.17,852.96 1448.9,853.17 1446.63,853.38 1444.36,853.59 1442.09,853.81 1439.82,854.03 1437.55,854.26 1435.28,854.49 1433.02,854.72 1430.75,854.96 1428.48,855.21 1426.21,855.46 1423.94,855.71 1421.67,855.97 1419.4,856.24 1417.13,856.51 1414.86,856.79 1412.59,857.07 1410.33,857.37 1408.06,857.67 1405.79,857.97 1403.52,858.29 1401.25,858.61 1398.98,858.94 1396.71,859.28 1394.44,859.63 1392.17,859.99 1389.9,860.36 1387.64,860.74 1385.37,861.13 1383.1,861.53 1380.83,861.95 1378.56,862.37 1376.29,862.81 1374.02,863.25 1371.75,863.71 1369.48,864.19 1367.21,864.67 1364.95,865.17 1362.68,865.68 1360.41,866.2 1358.14,866.73 1355.87,867.28 1353.6,867.84 1351.33,868.41 1349.06,868.99 1346.79,869.58 1344.52,870.19 1342.26,870.81 1339.99,871.43 1337.72,872.07 1335.45,872.72 1333.18,873.38 1330.91,874.05 1328.64,874.73 1326.37,875.41 1324.1,876.11 1321.83,876.81 1319.57,877.52 1317.3,878.24 1315.03,878.97 1312.76,879.7 1310.49,880.44 1308.22,881.19 1305.95,881.94 1303.68,882.7 1301.41,883.46 1299.14,884.23 1296.88,885 1294.61,885.78 1292.34,886.57 1290.07,887.36 1287.8,888.15" fill="#EBA000" fill-opacity="0.4"/>
<line x1="1287.8" y1="870.27" x2="1467.05" y2="830.04" stroke="#000" stroke-width="4.2"/>
</g>
<rect x="1057.5" y="546.5" width="428.9" height="372.5" fill="none" stroke="#333333" stroke-width="1.07"/>
<line x1="1064.5" y1="919" x2="1064.5" y2="924.8" stroke="#333333" stroke-width="1.8"/>
<text transform="translate(1064.5,950.3) scale(1,1.04)" text-anchor="middle">135</text>
<line x1="1162.1" y1="919" x2="1162.1" y2="924.8" stroke="#333333" stroke-width="1.8"/>
<text transform="translate(1162.1,950.3) scale(1,1.04)" text-anchor="middle">137</text>
<line x1="1259.6" y1="919" x2="1259.6" y2="924.8" stroke="#333333" stroke-width="1.8"/>
<text transform="translate(1259.6,950.3) scale(1,1.04)" text-anchor="middle">140</text>
<line x1="1356.2" y1="919" x2="1356.2" y2="924.8" stroke="#333333" stroke-width="1.8"/>
<text transform="translate(1356.2,950.3) scale(1,1.04)" text-anchor="middle">142</text>
<line x1="1453.2" y1="919" x2="1453.2" y2="924.8" stroke="#333333" stroke-width="1.8"/>
<text transform="translate(1453.2,950.3) scale(1,1.04)" text-anchor="middle">145</text>
<g clip-path="url(#cB11)">
<path d="M1654 732h15.2M1661.6 724.4v15.2M1565.8 790.4h15.2M1573.4 782.8v15.2M1655.1 780.1h15.2M1662.7 772.5v15.2M1663.1 797.7h15.2M1670.7 790.1v15.2M1617.4 796.1h15.2M1625 788.5v15.2M1620.7 811.3h15.2M1628.3 803.7v15.2M1648.4 822h15.2M1656 814.4v15.2M1636.4 827.1h15.2M1644 819.5v15.2M1580.7 826.7h15.2M1588.3 819.1v15.2M1581 834.5h15.2M1588.6 826.9v15.2M1510 836.9h15.2M1517.6 829.3v15.2M1510 838.4h15.2M1517.6 830.8v15.2M1510 861h15.2M1517.6 853.4v15.2M1510 867.5h15.2M1517.6 859.9v15.2" stroke="#000" stroke-width="1.4" fill="none"/>
<polygon points="1517.8,825.63 1519.73,825.2 1521.67,824.76 1523.6,824.32 1525.54,823.87 1527.47,823.42 1529.41,822.96 1531.34,822.5 1533.27,822.03 1535.21,821.56 1537.14,821.08 1539.08,820.6 1541.01,820.11 1542.94,819.61 1544.88,819.1 1546.81,818.59 1548.75,818.07 1550.68,817.54 1552.62,817.01 1554.55,816.46 1556.48,815.91 1558.42,815.35 1560.35,814.77 1562.29,814.19 1564.22,813.6 1566.15,812.99 1568.09,812.38 1570.02,811.75 1571.96,811.11 1573.89,810.46 1575.83,809.79 1577.76,809.11 1579.69,808.42 1581.63,807.72 1583.56,807 1585.5,806.27 1587.43,805.53 1589.36,804.77 1591.3,804 1593.23,803.22 1595.17,802.42 1597.1,801.61 1599.04,800.79 1600.97,799.95 1602.9,799.1 1604.84,798.24 1606.77,797.37 1608.71,796.49 1610.64,795.59 1612.57,794.68 1614.51,793.77 1616.44,792.84 1618.38,791.9 1620.31,790.96 1622.25,790 1624.18,789.04 1626.11,788.07 1628.05,787.09 1629.98,786.1 1631.92,785.1 1633.85,784.1 1635.78,783.09 1637.72,782.08 1639.65,781.06 1641.59,780.03 1643.52,779 1645.46,777.96 1647.39,776.92 1649.32,775.87 1651.26,774.82 1653.19,773.76 1655.13,772.7 1657.06,771.64 1658.99,770.57 1660.93,769.5 1662.86,768.42 1664.8,767.35 1666.73,766.27 1668.67,765.18 1670.6,764.1 1670.6,808.42 1668.67,808.83 1666.73,809.24 1664.8,809.66 1662.86,810.08 1660.93,810.5 1658.99,810.93 1657.06,811.36 1655.13,811.79 1653.19,812.23 1651.26,812.67 1649.32,813.12 1647.39,813.57 1645.46,814.03 1643.52,814.49 1641.59,814.95 1639.65,815.43 1637.72,815.9 1635.78,816.39 1633.85,816.87 1631.92,817.37 1629.98,817.87 1628.05,818.38 1626.11,818.9 1624.18,819.43 1622.25,819.96 1620.31,820.51 1618.38,821.06 1616.44,821.62 1614.51,822.19 1612.57,822.77 1610.64,823.36 1608.71,823.97 1606.77,824.58 1604.84,825.21 1602.9,825.84 1600.97,826.49 1599.04,827.15 1597.1,827.83 1595.17,828.52 1593.23,829.22 1591.3,829.93 1589.36,830.66 1587.43,831.4 1585.5,832.16 1583.56,832.92 1581.63,833.7 1579.69,834.5 1577.76,835.31 1575.83,836.13 1573.89,836.96 1571.96,837.81 1570.02,838.67 1568.09,839.54 1566.15,840.42 1564.22,841.31 1562.29,842.22 1560.35,843.13 1558.42,844.06 1556.48,844.99 1554.55,845.93 1552.62,846.89 1550.68,847.85 1548.75,848.82 1546.81,849.8 1544.88,850.79 1542.94,851.78 1541.01,852.78 1539.08,853.79 1537.14,854.8 1535.21,855.82 1533.27,856.85 1531.34,857.88 1529.41,858.92 1527.47,859.96 1525.54,861 1523.6,862.05 1521.67,863.11 1519.73,864.17 1517.8,865.23" fill="#006400" fill-opacity="0.4"/>
<line x1="1517.8" y1="845.43" x2="1670.6" y2="786.26" stroke="#000" stroke-width="4.2"/>
</g>
<rect x="1498.5" y="546.5" width="429" height="372.5" fill="none" stroke="#333333" stroke-width="1.07"/>
<line x1="1506" y1="919" x2="1506" y2="924.8" stroke="#333333" stroke-width="1.8"/>
<text transform="translate(1506,950.3) scale(1,1.04)" text-anchor="middle">135</text>
<line x1="1603.6" y1="919" x2="1603.6" y2="924.8" stroke="#333333" stroke-width="1.8"/>
<text transform="translate(1603.6,950.3) scale(1,1.04)" text-anchor="middle">137</text>
<line x1="1701.1" y1="919" x2="1701.1" y2="924.8" stroke="#333333" stroke-width="1.8"/>
<text transform="translate(1701.1,950.3) scale(1,1.04)" text-anchor="middle">140</text>
<line x1="1797.7" y1="919" x2="1797.7" y2="924.8" stroke="#333333" stroke-width="1.8"/>
<text transform="translate(1797.7,950.3) scale(1,1.04)" text-anchor="middle">142</text>
<line x1="1894.7" y1="919" x2="1894.7" y2="924.8" stroke="#333333" stroke-width="1.8"/>
<text transform="translate(1894.7,950.3) scale(1,1.04)" text-anchor="middle">145</text>
<rect x="1928.5" y="546.5" width="44" height="372.5" fill="none" stroke="#333333" stroke-width="1.07"/>
<text transform="translate(1940.6,732.75) rotate(90) scale(1,1.04)" text-anchor="middle" font-style="italic">Ruditapes decussatus</text>
<line x1="1051.3" y1="845.9" x2="1057.5" y2="845.9" stroke="#333333" stroke-width="1.8"/>
<text transform="translate(1046.6,856.5) scale(1,1.04)" text-anchor="end">2</text>
<line x1="1051.3" y1="732.5" x2="1057.5" y2="732.5" stroke="#333333" stroke-width="1.8"/>
<text transform="translate(1046.6,743.1) scale(1,1.04)" text-anchor="end">4</text>
<line x1="1051.3" y1="619.4" x2="1057.5" y2="619.4" stroke="#333333" stroke-width="1.8"/>
<text transform="translate(1046.6,630) scale(1,1.04)" text-anchor="end">6</text>
<g clip-path="url(#cB20)">
<circle cx="1418.2" cy="1185.7" r="5.6"/>
<circle cx="1467.1" cy="1217.4" r="5.6"/>
<circle cx="1454.8" cy="1228.7" r="5.6"/>
<circle cx="1284.8" cy="1237.8" r="5.6"/>
<circle cx="1334.9" cy="1269.6" r="5.6"/>
<circle cx="1407.2" cy="1267.4" r="5.6"/>
<circle cx="1284.8" cy="1277.8" r="5.6"/>
<circle cx="1421" cy="1281.6" r="5.6"/>
<circle cx="1284.8" cy="1292.4" r="5.6"/>
<circle cx="1284.8" cy="1300.6" r="5.6"/>
<circle cx="1356.9" cy="1297.8" r="5.6"/>
<circle cx="1385.3" cy="1295.8" r="5.6"/>
<circle cx="1389.8" cy="1304.2" r="5.6"/>
<circle cx="1427.7" cy="1306.2" r="5.6"/>
<circle cx="1453.9" cy="1345.8" r="5.6"/>
<polygon points="1284.9,1252.33 1287.21,1252.59 1289.51,1252.85 1291.82,1253.1 1294.12,1253.34 1296.43,1253.57 1298.73,1253.8 1301.04,1254.02 1303.34,1254.22 1305.65,1254.42 1307.95,1254.61 1310.26,1254.79 1312.56,1254.96 1314.87,1255.11 1317.17,1255.26 1319.48,1255.39 1321.78,1255.51 1324.09,1255.61 1326.39,1255.7 1328.7,1255.78 1331,1255.84 1333.31,1255.89 1335.61,1255.92 1337.92,1255.93 1340.22,1255.92 1342.53,1255.9 1344.83,1255.86 1347.14,1255.8 1349.44,1255.72 1351.75,1255.61 1354.05,1255.49 1356.36,1255.35 1358.66,1255.19 1360.97,1255.01 1363.27,1254.8 1365.58,1254.58 1367.88,1254.33 1370.19,1254.06 1372.49,1253.77 1374.8,1253.46 1377.1,1253.13 1379.41,1252.78 1381.71,1252.4 1384.02,1252.01 1386.32,1251.6 1388.63,1251.17 1390.93,1250.73 1393.24,1250.26 1395.54,1249.78 1397.85,1249.28 1400.15,1248.76 1402.46,1248.23 1404.76,1247.68 1407.07,1247.12 1409.37,1246.55 1411.68,1245.96 1413.98,1245.36 1416.29,1244.75 1418.59,1244.13 1420.9,1243.49 1423.2,1242.85 1425.51,1242.19 1427.81,1241.53 1430.12,1240.85 1432.42,1240.17 1434.73,1239.48 1437.03,1238.78 1439.34,1238.07 1441.64,1237.36 1443.95,1236.64 1446.25,1235.91 1448.56,1235.18 1450.86,1234.44 1453.17,1233.69 1455.47,1232.94 1457.78,1232.19 1460.08,1231.43 1462.39,1230.66 1464.69,1229.89 1467,1229.12 1467,1301.83 1464.69,1301.52 1462.39,1301.21 1460.08,1300.9 1457.78,1300.6 1455.47,1300.31 1453.17,1300.02 1450.86,1299.73 1448.56,1299.46 1446.25,1299.18 1443.95,1298.92 1441.64,1298.66 1439.34,1298.4 1437.03,1298.16 1434.73,1297.92 1432.42,1297.69 1430.12,1297.47 1427.81,1297.25 1425.51,1297.05 1423.2,1296.86 1420.9,1296.67 1418.59,1296.5 1416.29,1296.33 1413.98,1296.18 1411.68,1296.04 1409.37,1295.92 1407.07,1295.8 1404.76,1295.71 1402.46,1295.62 1400.15,1295.55 1397.85,1295.5 1395.54,1295.46 1393.24,1295.43 1390.93,1295.43 1388.63,1295.44 1386.32,1295.47 1384.02,1295.52 1381.71,1295.59 1379.41,1295.68 1377.1,1295.79 1374.8,1295.92 1372.49,1296.07 1370.19,1296.24 1367.88,1296.43 1365.58,1296.65 1363.27,1296.88 1360.97,1297.14 1358.66,1297.42 1356.36,1297.71 1354.05,1298.03 1351.75,1298.37 1349.44,1298.73 1347.14,1299.11 1344.83,1299.51 1342.53,1299.93 1340.22,1300.37 1337.92,1300.82 1335.61,1301.3 1333.31,1301.79 1331,1302.29 1328.7,1302.82 1326.39,1303.35 1324.09,1303.91 1321.78,1304.47 1319.48,1305.05 1317.17,1305.64 1314.87,1306.25 1312.56,1306.87 1310.26,1307.49 1307.95,1308.13 1305.65,1308.78 1303.34,1309.44 1301.04,1310.11 1298.73,1310.79 1296.43,1311.47 1294.12,1312.17 1291.82,1312.87 1289.51,1313.58 1287.21,1314.3 1284.9,1315.02" fill="#EBA000" fill-opacity="0.4"/>
<line x1="1284.9" y1="1283.68" x2="1467" y2="1265.47" stroke="#000" stroke-width="4.2" stroke-dasharray="23.3 23.3"/>
</g>
<rect x="1057.5" y="994" width="428.9" height="372.5" fill="none" stroke="#333333" stroke-width="1.07"/>
<line x1="1166.8" y1="1366.5" x2="1166.8" y2="1372.3" stroke="#333333" stroke-width="1.8"/>
<text transform="translate(1166.8,1397.8) scale(1,1.04)" text-anchor="middle">144</text>
<line x1="1278.2" y1="1366.5" x2="1278.2" y2="1372.3" stroke="#333333" stroke-width="1.8"/>
<text transform="translate(1278.2,1397.8) scale(1,1.04)" text-anchor="middle">147</text>
<line x1="1389" y1="1366.5" x2="1389" y2="1372.3" stroke="#333333" stroke-width="1.8"/>
<text transform="translate(1389,1397.8) scale(1,1.04)" text-anchor="middle">150</text>
<g clip-path="url(#cB21)">
<path d="M1664.8 1185.1h15.2M1672.4 1177.5v15.2M1581.3 1207.1h15.2M1588.9 1199.5v15.2M1657.1 1210.1h15.2M1664.7 1202.5v15.2M1655.6 1225.8h15.2M1663.2 1218.2v15.2M1510 1221.4h15.2M1517.6 1213.8v15.2M1510 1223.3h15.2M1517.6 1215.7v15.2M1542.3 1229.3h15.2M1549.9 1221.7v15.2M1621.8 1240.7h15.2M1629.4 1233.1v15.2M1618.6 1257.8h15.2M1626.2 1250.2v15.2M1637.6 1261.2h15.2M1645.2 1253.6v15.2M1566.1 1265.8h15.2M1573.7 1258.2v15.2M1582 1268.8h15.2M1589.6 1261.2v15.2M1649.5 1274.6h15.2M1657.1 1267v15.2M1510 1265.4h15.2M1517.6 1257.8v15.2M1510 1267.3h15.2M1517.6 1259.7v15.2M1510 1324.4h15.2M1517.6 1316.8v15.2" stroke="#000" stroke-width="1.4" fill="none"/>
<polygon points="1517.6,1231.73 1519.56,1231.8 1521.52,1231.86 1523.48,1231.92 1525.44,1231.97 1527.4,1232.01 1529.36,1232.05 1531.32,1232.09 1533.28,1232.11 1535.24,1232.13 1537.19,1232.14 1539.15,1232.15 1541.11,1232.14 1543.07,1232.13 1545.03,1232.1 1546.99,1232.07 1548.95,1232.03 1550.91,1231.98 1552.87,1231.91 1554.83,1231.84 1556.79,1231.75 1558.75,1231.65 1560.71,1231.53 1562.67,1231.4 1564.63,1231.26 1566.59,1231.1 1568.55,1230.93 1570.51,1230.74 1572.47,1230.54 1574.43,1230.32 1576.38,1230.08 1578.34,1229.82 1580.3,1229.54 1582.26,1229.25 1584.22,1228.94 1586.18,1228.61 1588.14,1228.25 1590.1,1227.88 1592.06,1227.5 1594.02,1227.09 1595.98,1226.66 1597.94,1226.21 1599.9,1225.75 1601.86,1225.26 1603.82,1224.76 1605.78,1224.24 1607.74,1223.7 1609.7,1223.14 1611.66,1222.57 1613.62,1221.98 1615.57,1221.38 1617.53,1220.76 1619.49,1220.12 1621.45,1219.48 1623.41,1218.81 1625.37,1218.14 1627.33,1217.45 1629.29,1216.76 1631.25,1216.05 1633.21,1215.32 1635.17,1214.59 1637.13,1213.85 1639.09,1213.1 1641.05,1212.34 1643.01,1211.58 1644.97,1210.8 1646.93,1210.02 1648.89,1209.23 1650.85,1208.43 1652.81,1207.62 1654.76,1206.81 1656.72,1205.99 1658.68,1205.17 1660.64,1204.34 1662.6,1203.51 1664.56,1202.67 1666.52,1201.83 1668.48,1200.98 1670.44,1200.13 1672.4,1199.27 1672.4,1259.65 1670.44,1259.56 1668.48,1259.48 1666.52,1259.4 1664.56,1259.32 1662.6,1259.25 1660.64,1259.19 1658.68,1259.13 1656.72,1259.07 1654.76,1259.02 1652.81,1258.98 1650.85,1258.94 1648.89,1258.91 1646.93,1258.89 1644.97,1258.88 1643.01,1258.87 1641.05,1258.87 1639.09,1258.88 1637.13,1258.89 1635.17,1258.92 1633.21,1258.96 1631.25,1259 1629.29,1259.06 1627.33,1259.13 1625.37,1259.21 1623.41,1259.31 1621.45,1259.41 1619.49,1259.53 1617.53,1259.67 1615.57,1259.82 1613.62,1259.98 1611.66,1260.16 1609.7,1260.36 1607.74,1260.57 1605.78,1260.8 1603.82,1261.04 1601.86,1261.31 1599.9,1261.59 1597.94,1261.89 1595.98,1262.21 1594.02,1262.55 1592.06,1262.91 1590.1,1263.29 1588.14,1263.69 1586.18,1264.11 1584.22,1264.54 1582.26,1265 1580.3,1265.47 1578.34,1265.96 1576.38,1266.47 1574.43,1267 1572.47,1267.55 1570.51,1268.11 1568.55,1268.69 1566.59,1269.29 1564.63,1269.9 1562.67,1270.52 1560.71,1271.16 1558.75,1271.82 1556.79,1272.48 1554.83,1273.16 1552.87,1273.85 1550.91,1274.56 1548.95,1275.27 1546.99,1276 1545.03,1276.73 1543.07,1277.48 1541.11,1278.23 1539.15,1279 1537.19,1279.77 1535.24,1280.55 1533.28,1281.33 1531.32,1282.13 1529.36,1282.93 1527.4,1283.73 1525.44,1284.55 1523.48,1285.37 1521.52,1286.19 1519.56,1287.02 1517.6,1287.86" fill="#006400" fill-opacity="0.4"/>
<line x1="1517.6" y1="1259.79" x2="1672.4" y2="1229.46" stroke="#000" stroke-width="4.2" stroke-dasharray="23.3 23.3"/>
</g>
<rect x="1498.5" y="994" width="429" height="372.5" fill="none" stroke="#333333" stroke-width="1.07"/>
<line x1="1607.4" y1="1366.5" x2="1607.4" y2="1372.3" stroke="#333333" stroke-width="1.8"/>
<text transform="translate(1607.4,1397.8) scale(1,1.04)" text-anchor="middle">144</text>
<line x1="1718.8" y1="1366.5" x2="1718.8" y2="1372.3" stroke="#333333" stroke-width="1.8"/>
<text transform="translate(1718.8,1397.8) scale(1,1.04)" text-anchor="middle">147</text>
<line x1="1829.6" y1="1366.5" x2="1829.6" y2="1372.3" stroke="#333333" stroke-width="1.8"/>
<text transform="translate(1829.6,1397.8) scale(1,1.04)" text-anchor="middle">150</text>
<rect x="1928.5" y="994" width="44" height="372.5" fill="none" stroke="#333333" stroke-width="1.07"/>
<text transform="translate(1940.6,1180.25) rotate(90) scale(1,1.04)" text-anchor="middle" font-style="italic">Ruditapes philippinarum</text>
<line x1="1051.3" y1="1293.8" x2="1057.5" y2="1293.8" stroke="#333333" stroke-width="1.8"/>
<text transform="translate(1046.6,1304.4) scale(1,1.04)" text-anchor="end">4</text>
<line x1="1051.3" y1="1180.4" x2="1057.5" y2="1180.4" stroke="#333333" stroke-width="1.8"/>
<text transform="translate(1046.6,1191) scale(1,1.04)" text-anchor="end">6</text>
<line x1="1051.3" y1="1067.2" x2="1057.5" y2="1067.2" stroke="#333333" stroke-width="1.8"/>
<text transform="translate(1046.6,1077.8) scale(1,1.04)" text-anchor="end">8</text>
<text transform="translate(1271.95,93.8) scale(1,1.04)" text-anchor="middle">Bare sediment</text>
<text transform="translate(1713,93.8) scale(1,1.04)" text-anchor="middle" font-style="italic">Zostera noltei</text>
<text transform="translate(1019.1,732.6) rotate(-90) scale(1,1.04)" text-anchor="middle">Shell growth (mm)</text>
<text transform="translate(1492.5,1430.3) scale(1,1.04)" text-anchor="middle">Mesocosm+field degree days</text>
<text transform="translate(1500.5,1460.3) scale(1,1.04)" text-anchor="middle">(total heating)</text>
<text transform="translate(52,27.9) scale(1,1.04)">A) Noia</text>
<text transform="translate(1053,31.9) scale(1,1.04)">B) Combarro</text>
<text transform="translate(1907.3,145.5) scale(1.25,1.2)" text-anchor="middle" font-size="40" fill="#FF0000" stroke="#FF0000" stroke-width="0.35">*</text>
<text transform="translate(1911.3,581.4) scale(1.25,1.2)" text-anchor="middle" font-size="40" fill="#FF0000" stroke="#FF0000" stroke-width="0.35">*</text>
<text transform="translate(1911.9,1027.2) scale(1.25,1.2)" text-anchor="middle" font-size="40" fill="#FF0000" stroke="#FF0000" stroke-width="0.35">*</text>
</g></svg>
</body></html>
